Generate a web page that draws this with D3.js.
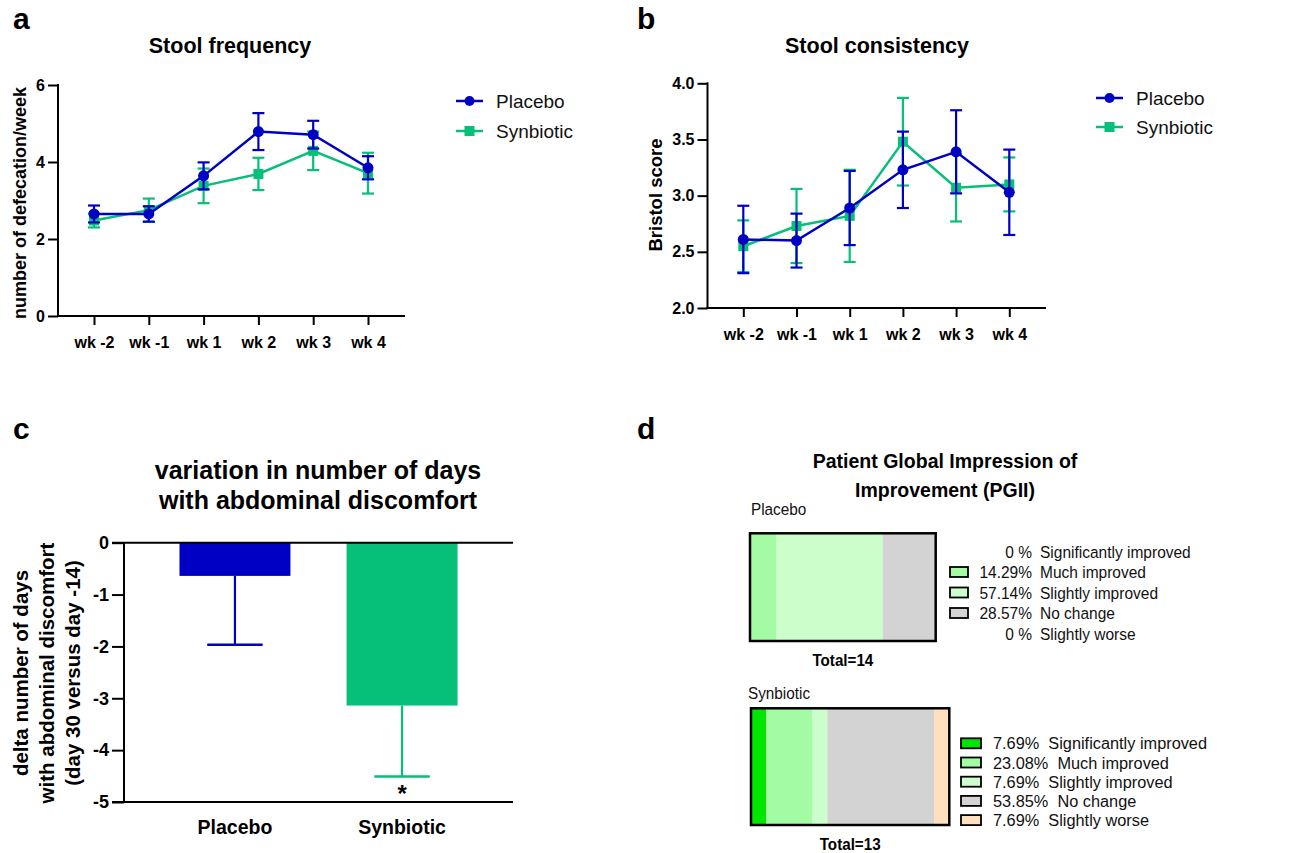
<!DOCTYPE html>
<html>
<head>
<meta charset="utf-8">
<script src="https://cdn.jsdelivr.net/npm/d3@7"></script>
<style>
  html, body { margin: 0; padding: 0; background: #fff; }
  svg { display: block; font-family: "Liberation Sans", Arial, sans-serif; }
</style>
</head>
<body>
<svg id="chart" width="1308" height="853"></svg>
<script>
// ---------------- DATA ----------------
const weeks = ["wk -2", "wk -1", "wk 1", "wk 2", "wk 3", "wk 4"];
const freqTicks = [0, 2, 4, 6];
const freqPlacebo = [2.65, 2.65, 3.64, 4.79, 4.71, 3.85];
const freqPlaceboErr = [0.22, 0.20, 0.35, 0.48, 0.36, 0.30];
const freqSynbiotic = [2.48, 2.75, 3.38, 3.69, 4.29, 3.71];
const freqSynbioticErr = [0.18, 0.30, 0.45, 0.42, 0.50, 0.53];

const bristolTicks = [2.0, 2.5, 3.0, 3.5, 4.0];
const bristolPlacebo = [2.61, 2.60, 2.89, 3.23, 3.39, 3.03];
const bristolPlaceboErr = [0.30, 0.24, 0.33, 0.34, 0.37, 0.38];
const bristolSynbiotic = [2.55, 2.73, 2.82, 3.48, 3.07, 3.10];
const bristolSynbioticErr = [0.23, 0.33, 0.41, 0.39, 0.30, 0.24];

const groups = ["Placebo", "Synbiotic"];
const discomfortTicks = [0, -1, -2, -3, -4, -5];
const discomfortMean = [-0.64, -3.14];
const discomfortErr = [1.33, 1.37];

const pgiiCategories = ["Significantly improved", "Much improved", "Slightly improved", "No change", "Slightly worse"];
const pgiiPlacebo = [0, 14.29, 57.14, 28.57, 0];
const pgiiSynbiotic = [7.69, 23.08, 7.69, 53.85, 7.69];
const pgiiTotals = [14, 13];

// ---------------- STYLE ----------------
const BLUE = "#0000c4";
const GREEN = "#06bf79";
const pgiiColors = ["#00e600", "#a3fca3", "#ccfecc", "#d3d3d3", "#fedfc0"];

const svg = d3.select("#chart");

function letter(t, x, y) {
  svg.append("text").attr("x", x).attr("y", y).attr("font-size", 30)
    .attr("font-weight", "bold").attr("fill", "#000").text(t);
}

// condensed text helper (horizontal squeeze)
function ntext(g, x, y, str, size, sx, opts = {}) {
  return g.append("text").attr("transform", `translate(${x},${y}) scale(${sx},1)`)
    .attr("x", 0).attr("y", 0).attr("font-size", size)
    .attr("font-weight", opts.bold ? "bold" : "normal")
    .attr("text-anchor", opts.anchor || "start").attr("fill", opts.fill || "#111")
    .style("white-space", "pre").text(str);
}

// ---------------- LINE PANELS ----------------
function linePanel(cfg) {
  const g = svg.append("g");
  const x = d3.scalePoint().domain(weeks).range(cfg.xRange);
  const y = d3.scaleLinear().domain(cfg.domain).range(cfg.yRange);

  const ya = g.append("g").attr("transform", `translate(${cfg.axisX},0)`)
    .call(d3.axisLeft(y).tickValues(cfg.ticks).tickFormat(cfg.fmt).tickSize(10).tickPadding(3).tickSizeOuter(0));
  ya.select(".domain").remove();
  ya.append("line").attr("x1", 0).attr("x2", 0).attr("y1", cfg.yRange[1] - 1).attr("y2", cfg.yRange[0] + 1)
    .attr("stroke", "#000").attr("stroke-width", 2);
  ya.selectAll(".tick line").attr("stroke-width", 2);
  ya.selectAll(".tick text").attr("font-size", 16).attr("font-weight", "bold")
    .attr("font-family", "Liberation Sans, Arial, sans-serif").attr("fill", "#000");

  const xa = g.append("g").attr("transform", `translate(0,${cfg.yRange[0]})`)
    .call(d3.axisBottom(x).tickSize(9).tickPadding(12).tickSizeOuter(0));
  xa.select(".domain").remove();
  xa.append("line").attr("x1", cfg.axisX - 1).attr("x2", cfg.axisEnd).attr("y1", 0).attr("y2", 0)
    .attr("stroke", "#000").attr("stroke-width", 2);
  xa.selectAll(".tick line").attr("stroke-width", 2);
  xa.selectAll(".tick text").attr("font-size", 16).attr("font-weight", "bold")
    .attr("font-family", "Liberation Sans, Arial, sans-serif").attr("fill", "#000");

  g.append("text").attr("x", cfg.titleX).attr("y", 53).attr("text-anchor", "middle")
    .attr("font-size", 21.5).attr("font-weight", "bold").text(cfg.title);

  g.append("text").attr("transform", `translate(${cfg.ylabX},${cfg.ylabY}) rotate(-90)`)
    .attr("text-anchor", "middle").attr("font-size", cfg.ylabSize).attr("font-weight", "bold").text(cfg.ylabel);

  const series = [
    { vals: cfg.syn, err: cfg.synErr, color: GREEN, marker: "square" },
    { vals: cfg.pla, err: cfg.plaErr, color: BLUE, marker: "circle" }
  ];
  const line = d3.line().x((d, i) => x(weeks[i])).y(d => y(d));
  series.forEach(s => {
    const sg = g.append("g");
    s.vals.forEach((v, i) => {
      const cx = x(weeks[i]);
      const yt = y(v + s.err[i]), yb = y(v - s.err[i]);
      sg.append("line").attr("x1", cx).attr("x2", cx).attr("y1", yt).attr("y2", yb)
        .attr("stroke", s.color).attr("stroke-width", 2.2);
      [yt, yb].forEach(yy => sg.append("line").attr("x1", cx - 6).attr("x2", cx + 6)
        .attr("y1", yy).attr("y2", yy).attr("stroke", s.color).attr("stroke-width", 2.2));
    });
    sg.append("path").datum(s.vals).attr("d", line).attr("fill", "none")
      .attr("stroke", s.color).attr("stroke-width", 2.5);
    s.vals.forEach((v, i) => {
      const cx = x(weeks[i]), cy = y(v);
      if (s.marker === "circle") sg.append("circle").attr("cx", cx).attr("cy", cy).attr("r", 5.5).attr("fill", s.color);
      else sg.append("rect").attr("x", cx - 5).attr("y", cy - 5).attr("width", 10).attr("height", 10).attr("fill", s.color);
    });
  });

  const leg = [{ name: "Placebo", color: BLUE, marker: "circle" }, { name: "Synbiotic", color: GREEN, marker: "square" }];
  leg.forEach((l, i) => {
    const ly = cfg.legY + i * cfg.legStep, lx = cfg.legX;
    g.append("line").attr("x1", lx).attr("x2", lx + 27).attr("y1", ly).attr("y2", ly)
      .attr("stroke", l.color).attr("stroke-width", 2.5);
    if (l.marker === "circle") g.append("circle").attr("cx", lx + 13.5).attr("cy", ly).attr("r", 5).attr("fill", l.color);
    else g.append("rect").attr("x", lx + 8.5).attr("y", ly - 5).attr("width", 10).attr("height", 10).attr("fill", l.color);
    g.append("text").attr("x", lx + 40).attr("y", ly + 7).attr("font-size", 19).attr("fill", "#111").text(l.name);
  });
}

letter("a", 13, 29);
linePanel({
  axisX: 58, axisEnd: 405, xRange: [94, 368], yRange: [316, 85], domain: [0, 6],
  ticks: freqTicks, fmt: d3.format("d"),
  pla: freqPlacebo, plaErr: freqPlaceboErr, syn: freqSynbiotic, synErr: freqSynbioticErr,
  title: "Stool frequency", titleX: 230, ylabel: "number of defecation/week", ylabX: 26, ylabY: 203, ylabSize: 18,
  legX: 456, legY: 101, legStep: 30
});

letter("b", 637, 29);
linePanel({
  axisX: 707.5, axisEnd: 1046, xRange: [743.3, 1009.3], yRange: [308, 83.3], domain: [2, 4],
  ticks: bristolTicks, fmt: d3.format(".1f"),
  pla: bristolPlacebo, plaErr: bristolPlaceboErr, syn: bristolSynbiotic, synErr: bristolSynbioticErr,
  title: "Stool consistency", titleX: 877, ylabel: "Bristol score", ylabX: 662, ylabY: 195, ylabSize: 18.5,
  legX: 1096, legY: 98, legStep: 29
});

// ---------------- BAR PANEL (c) ----------------
(function () {
  letter("c", 13, 439);
  const g = svg.append("g");
  const axisX = 124, axisEnd = 513;
  const x = d3.scaleBand().domain(groups).range([axisX, axisEnd]).paddingInner(0.336).paddingOuter(0.332);
  const y = d3.scaleLinear().domain([0, -5]).range([542.7, 802]);

  const ya = g.append("g").attr("transform", `translate(${axisX},0)`)
    .call(d3.axisLeft(y).tickValues(discomfortTicks).tickFormat(d3.format("d")).tickSize(12).tickPadding(3).tickSizeOuter(0));
  ya.select(".domain").remove();
  ya.selectAll(".tick line").attr("stroke-width", 2);
  ya.selectAll(".tick text").attr("font-size", 18).attr("font-weight", "bold")
    .attr("font-family", "Liberation Sans, Arial, sans-serif").attr("fill", "#000")
    .text(d => d === 0 ? "0" : "-" + Math.abs(d));

  const colors = [BLUE, GREEN];
  groups.forEach((gname, i) => {
    const bx = x(gname), bw = x.bandwidth();
    g.append("rect").attr("x", bx).attr("y", y(0)).attr("width", bw).attr("height", y(discomfortMean[i]) - y(0))
      .attr("fill", colors[i]);
    const cx = bx + bw / 2, yb = y(discomfortMean[i]), ye = y(discomfortMean[i] - discomfortErr[i]);
    g.append("line").attr("x1", cx).attr("x2", cx).attr("y1", yb).attr("y2", ye).attr("stroke", colors[i]).attr("stroke-width", 2.2);
    g.append("line").attr("x1", cx - bw / 4).attr("x2", cx + bw / 4).attr("y1", ye).attr("y2", ye).attr("stroke", colors[i]).attr("stroke-width", 2.5);
    g.append("text").attr("x", cx).attr("y", 834).attr("text-anchor", "middle").attr("font-size", 19.5)
      .attr("font-weight", "bold").text(gname);
  });
  const sx = x("Synbiotic") + x.bandwidth() / 2;
  g.append("text").attr("x", sx).attr("y", y(discomfortMean[1] - discomfortErr[1]) + 25).attr("text-anchor", "middle")
    .attr("font-size", 24).attr("font-weight", "bold").text("*");

  g.append("line").attr("x1", axisX).attr("x2", axisX).attr("y1", y(0)).attr("y2", y(-5)).attr("stroke", "#000").attr("stroke-width", 2);
  g.append("line").attr("x1", axisX - 12).attr("x2", axisEnd).attr("y1", y(0)).attr("y2", y(0)).attr("stroke", "#000").attr("stroke-width", 2);
  g.append("line").attr("x1", axisX - 12).attr("x2", axisEnd).attr("y1", y(-5)).attr("y2", y(-5)).attr("stroke", "#000").attr("stroke-width", 2);

  const t = g.append("text").attr("text-anchor", "middle").attr("font-size", 25).attr("font-weight", "bold");
  t.append("tspan").attr("x", 318).attr("y", 479).text("variation in number of days");
  t.append("tspan").attr("x", 318).attr("y", 509).text("with abdominal discomfort");

  const yl = g.append("text").attr("transform", "translate(0,673) rotate(-90)").attr("text-anchor", "middle")
    .attr("font-size", 20.5).attr("font-weight", "bold");
  ["delta number of days", "with abdominal discomfort", "(day 30 versus day -14)"].forEach((s, i) => {
    yl.append("tspan").attr("x", 0).attr("y", 28 + i * 26).text(s);
  });
})();

// ---------------- PGII PANEL (d) ----------------
(function () {
  letter("d", 637, 439);
  const g = svg.append("g");
  ntext(g, 945, 468, "Patient Global Impression of", 21, 0.93, { bold: true, anchor: "middle", fill: "#000" });
  ntext(g, 945, 497, "Improvement (PGII)", 21, 0.93, { bold: true, anchor: "middle", fill: "#000" });

  function stackBar(cfg) {
    const x = d3.scaleLinear().domain([0, 100]).range([cfg.x0, cfg.x1]);
    let acc = 0;
    cfg.vals.forEach((v, i) => {
      if (v > 0) {
        g.append("rect").attr("x", x(acc)).attr("y", cfg.y0).attr("width", x(acc + v) - x(acc))
          .attr("height", cfg.y1 - cfg.y0).attr("fill", pgiiColors[i]);
      }
      acc += v;
    });
    g.append("rect").attr("x", cfg.x0).attr("y", cfg.y0).attr("width", cfg.x1 - cfg.x0).attr("height", cfg.y1 - cfg.y0)
      .attr("fill", "none").attr("stroke", "#000").attr("stroke-width", 2.5);
    ntext(g, cfg.labelX, cfg.labelY, cfg.name, 17, 0.9);
    ntext(g, (cfg.x0 + cfg.x1) / 2, cfg.totalY, "Total=" + cfg.total, 16.5, 0.92, { bold: true, anchor: "middle", fill: "#000" });
  }

  stackBar({ name: groups[0], vals: pgiiPlacebo, x0: 750, x1: 935.7, y0: 533.3, y1: 641,
    labelX: 751, labelY: 515, totalY: 666, total: pgiiTotals[0] });
  stackBar({ name: groups[1], vals: pgiiSynbiotic, x0: 751, x1: 949.3, y0: 708.3, y1: 825,
    labelX: 748, labelY: 699, totalY: 850, total: pgiiTotals[1] });

  const fmtPct = v => v === 0 ? "0 %" : v.toFixed(2) + "%";

  const pRows = [551.5, 572, 592.5, 613, 633.5];
  pgiiCategories.forEach((c, i) => {
    const cy = pRows[i];
    if (pgiiPlacebo[i] > 0) {
      g.append("rect").attr("x", 950).attr("y", cy - 5).attr("width", 18).attr("height", 10)
        .attr("fill", pgiiColors[i]).attr("stroke", "#000").attr("stroke-width", 1.8);
    }
    ntext(g, 1032, cy + 6, fmtPct(pgiiPlacebo[i]), 16.5, 0.94, { anchor: "end" });
    ntext(g, 1040, cy + 6, c, 16.5, 0.94);
  });

  const sRows = [743.3, 762.5, 781.7, 800.9, 820.1];
  pgiiCategories.forEach((c, i) => {
    const cy = sRows[i];
    g.append("rect").attr("x", 961).attr("y", cy - 5).attr("width", 20).attr("height", 10)
      .attr("fill", pgiiColors[i]).attr("stroke", "#000").attr("stroke-width", 1.8);
    ntext(g, 993, cy + 6, fmtPct(pgiiSynbiotic[i]) + "  " + c, 16, 1.02);
  });
})();
</script>
</body>
</html>
